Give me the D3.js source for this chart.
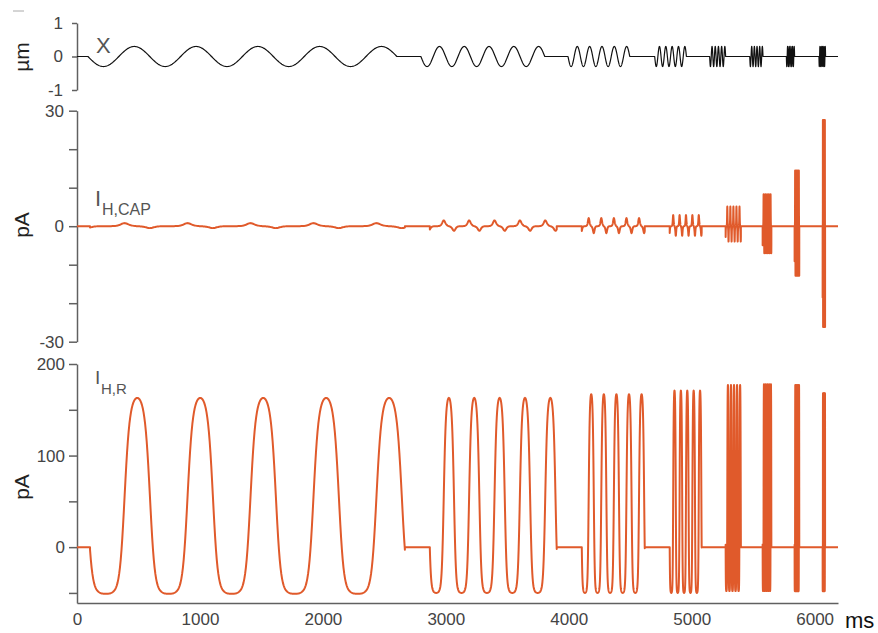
<!DOCTYPE html>
<html>
<head>
<meta charset="utf-8">
<script src="https://cdn.jsdelivr.net/npm/d3@7"></script>
<style>
body { margin: 0; background: #fff; }
svg { font-family: "Liberation Sans", Arial, sans-serif; }
</style>
</head>
<body>
<svg id="chart" width="878" height="633"></svg>
<script>
// stimulus protocol: 8 sinusoidal bursts, 5 cycles each
var cycles = 5;
var segOn  = [106, 2870, 4106, 4821, 5276, 5577, 5837, 6065];   // ms, current traces
var segOff = [2667, 3902, 4618, 5081, 5400, 5648, 5875, 6085];
var xOn    = [89, 2797, 3994, 4699, 5146, 5472, 5770, 6035];    // ms, X trace
var xOff   = [2602, 3805, 4496, 4957, 5276, 5580, 5837, 6089];
var xAmp   = [0.3, 0.3, 0.3, 0.3, 0.3, 0.3, 0.3, 0.3];          // µm
var irPeak   = [163, 163, 167, 171, 177, 178, 177, 168];        // pA
var irTrough = [-51, -50, -50, -50, -48, -48, -48, -48];
var capPos = [0.8, 1.5, 2.1, 2.9, 5.1, 8.3, 14.5, 27.6];        // pA
var capNeg = [-0.5, -1.2, -1.8, -2.5, -4.0, -7.0, -12.9, -26.2];
var tMax = 6190;

var xTicks = [0, 1000, 2000, 3000, 4000, 5000, 6000];
var umTicks = [-1, 0, 1];
var capTicks = [-30, -20, -10, 0, 10, 20, 30], capLabels = [-30, 0, 30];
var irTicks = [-50, 0, 50, 100, 150, 200], irLabels = [0, 100, 200];

// transducer activation: Boltzmann of normalised displacement
var u0 = 0.34, su = 0.26;
function sig(z) { return 1 / (1 + Math.exp(-z)); }
var bLo = sig((-1 - u0) / su), bHi = sig((1 - u0) / su);
function pOpen(ph) { return (sig((-Math.sin(ph) - u0) / su) - bLo) / (bHi - bLo); }
function dOpen(ph) { return (pOpen(ph + 1e-3) - pOpen(ph - 1e-3)) / 2e-3; }
var dMax = d3.max(d3.range(0, 2 * Math.PI, 0.002), dOpen);

function trace(ons, offs, fn) {
  var pts = [[0, 0]];
  ons.forEach(function(on, i) {
    var off = offs[i], n = cycles * 80;
    pts.push([on, 0]);
    for (var k = 0; k <= n; k++) {
      var ph = 2 * Math.PI * cycles * k / n;
      pts.push([on + (off - on) * k / n, fn(ph, i)]);
    }
    pts.push([off, 0]);
  });
  pts.push([tMax, 0]);
  return pts;
}

var xData = trace(xOn, xOff, function(ph, i) { return -xAmp[i] * Math.sin(ph); });
var irData = trace(segOn, segOff, function(ph, i) {
  return irTrough[i] + (irPeak[i] - irTrough[i]) * pOpen(ph);
});
var capData = trace(segOn, segOff, function(ph, i) {
  var d = dOpen(ph) / dMax;
  return d > 0 ? capPos[i] * d : -capNeg[i] * d;
});

var svg = d3.select("#chart");
var axisCol = "#606060", red = "#e05a2b";

var x = d3.scaleLinear().domain([0, tMax]).range([77, 838]);
var yTop = d3.scaleLinear().domain([-1, 1]).range([90, 23]);
var yCap = d3.scaleLinear().domain([-30, 30]).range([341.7, 110.7]);
var yIr = d3.scaleLinear().domain([-61, 200]).range([603, 364]);

function fmt(list) {
  return function(d) { return list.indexOf(d) >= 0 ? String(d) : ""; };
}

function styleAxis(g) {
  g.selectAll("path, line").attr("stroke", axisCol).attr("stroke-width", 1.5);
  g.selectAll("text").attr("fill", "#444").style("font-size", "17px")
    .attr("font-family", "Liberation Sans, Arial, sans-serif");
}

svg.append("g").attr("transform", "translate(77,0)")
  .call(d3.axisLeft(yTop).tickValues(umTicks).tickSize(5).tickPadding(9).tickSizeOuter(0)
    .tickFormat(function(d) { return String(d); }))
  .call(styleAxis);

svg.append("g").attr("transform", "translate(77,0)")
  .call(d3.axisLeft(yCap).tickValues(capTicks).tickSize(8).tickPadding(5).tickSizeOuter(0)
    .tickFormat(fmt(capLabels)))
  .call(styleAxis);

svg.append("g").attr("transform", "translate(77,0)")
  .call(d3.axisLeft(yIr).tickValues(irTicks).tickSize(8).tickPadding(4).tickSizeOuter(0)
    .tickFormat(fmt(irLabels)))
  .call(styleAxis);

svg.append("g").attr("transform", "translate(0,603)")
  .call(d3.axisBottom(x).tickValues(xTicks).tickSize(0).tickPadding(10).tickSizeOuter(0)
    .tickFormat(function(d) { return String(d); }))
  .call(styleAxis);

svg.selectAll(".domain").attr("fill", "none");

function drawLine(data, y, col, w) {
  svg.append("path").datum(data)
    .attr("fill", "none").attr("stroke", col).attr("stroke-width", w)
    .attr("stroke-linejoin", "round")
    .attr("d", d3.line().x(function(d) { return x(d[0]); }).y(function(d) { return y(d[1]); }));
}
drawLine(xData, yTop, "#111", 1.2);
drawLine(capData, yCap, red, 2);
drawLine(irData, yIr, red, 2);

// axis titles
function yTitle(txt, cy) {
  svg.append("text").attr("transform", "translate(29," + cy + ") rotate(-90)")
    .attr("text-anchor", "middle").style("font-size", "21px").attr("fill", "#222").text(txt);
}
yTitle("µm", 57);
yTitle("pA", 225);
yTitle("pA", 487);

svg.append("text").attr("x", 845).attr("y", 628).style("font-size", "22px")
  .attr("fill", "#111").text("ms");

// trace labels
svg.append("text").attr("x", 96).attr("y", 53).style("font-size", "22px")
  .attr("fill", "#555").text("X");
svg.append("text").attr("x", 95).attr("y", 206).style("font-size", "22px")
  .attr("fill", "#555").text("I");
svg.append("text").attr("x", 102).attr("y", 215).style("font-size", "16px")
  .attr("fill", "#555").text("H,CAP");
svg.append("text").attr("x", 95).attr("y", 384).style("font-size", "19px")
  .attr("fill", "#555").text("I");
svg.append("text").attr("x", 101).attr("y", 394).style("font-size", "15px")
  .attr("fill", "#555").text("H,R");

svg.append("line").attr("x1", 13).attr("x2", 24).attr("y1", 11).attr("y2", 11)
  .attr("stroke", "#aaa").attr("stroke-width", 1);
</script>
</body>
</html>
